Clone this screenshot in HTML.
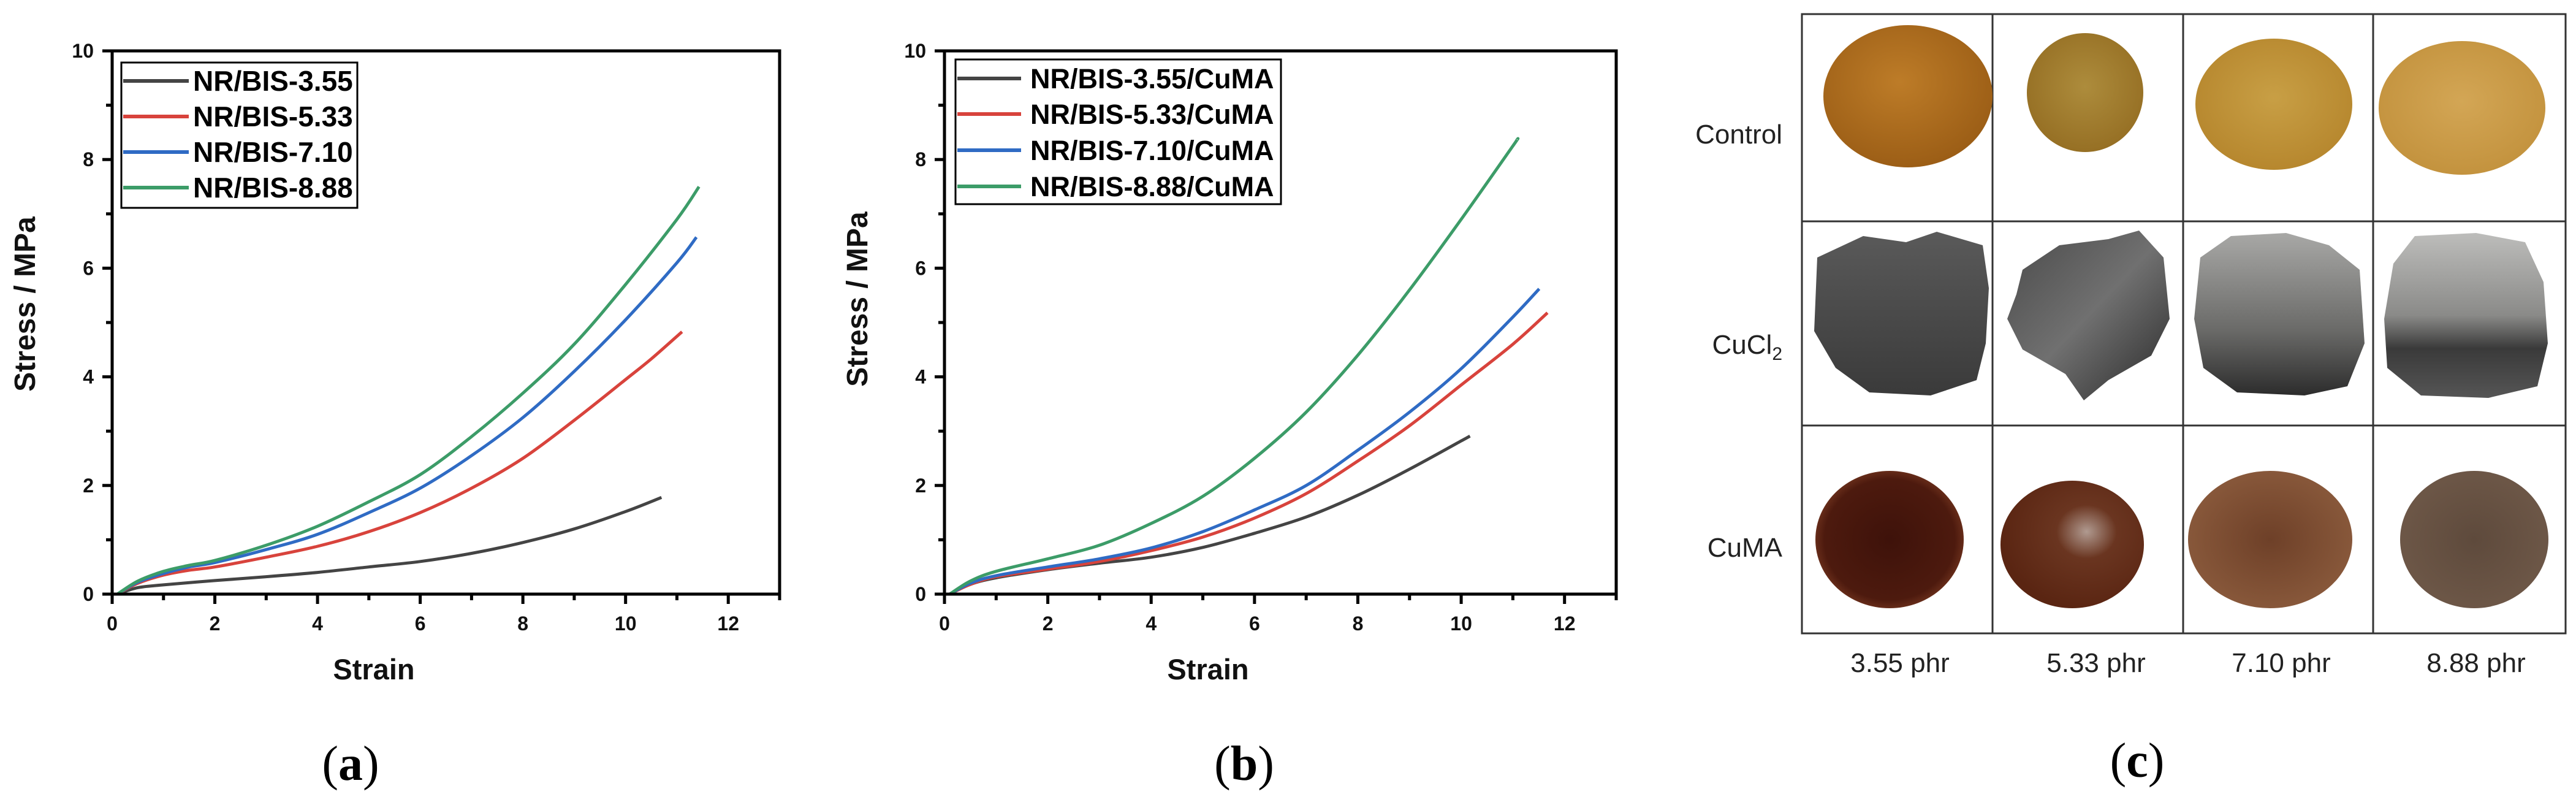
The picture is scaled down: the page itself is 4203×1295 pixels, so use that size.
<!DOCTYPE html>
<html><head><meta charset="utf-8"><style>
html,body{margin:0;padding:0;background:#fff;}
svg{display:block;}
</style></head><body>
<svg id="fig" width="4203" height="1295" viewBox="0 0 4203 1295" xmlns="http://www.w3.org/2000/svg" font-family="Liberation Sans, sans-serif">
<defs>
 <radialGradient id="gC1" cx="45%" cy="40%" r="60%"><stop offset="0" stop-color="#bd7c28"/><stop offset="1" stop-color="#9c5e16"/></radialGradient>
 <radialGradient id="gC2" cx="50%" cy="45%" r="60%"><stop offset="0" stop-color="#ad8c3c"/><stop offset="1" stop-color="#946d22"/></radialGradient>
 <radialGradient id="gC3" cx="50%" cy="45%" r="60%"><stop offset="0" stop-color="#c89f45"/><stop offset="1" stop-color="#b5852c"/></radialGradient>
 <radialGradient id="gC4" cx="50%" cy="45%" r="60%"><stop offset="0" stop-color="#d3a655"/><stop offset="1" stop-color="#c2913c"/></radialGradient>
 <linearGradient id="gX1" x1="0" y1="0" x2="0" y2="1"><stop offset="0" stop-color="#5a5a5a"/><stop offset="1" stop-color="#3a3a3a"/></linearGradient>
 <linearGradient id="gX2" x1="0" y1="0" x2="1" y2="1"><stop offset="0" stop-color="#4a4a4a"/><stop offset="0.5" stop-color="#707070"/><stop offset="1" stop-color="#2a2a2a"/></linearGradient>
 <linearGradient id="gX3" x1="0" y1="0" x2="0" y2="1"><stop offset="0" stop-color="#a8a8a6"/><stop offset="0.6" stop-color="#6a6a68"/><stop offset="1" stop-color="#2c2c2c"/></linearGradient>
 <linearGradient id="gX4" x1="0" y1="0" x2="0" y2="1"><stop offset="0" stop-color="#bdbdbb"/><stop offset="0.5" stop-color="#8a8a88"/><stop offset="0.7" stop-color="#3a3a3a"/><stop offset="1" stop-color="#555"/></linearGradient>
 <radialGradient id="gM1" cx="50%" cy="50%" r="55%"><stop offset="0" stop-color="#3e120a"/><stop offset="0.8" stop-color="#4d1a0e"/><stop offset="1" stop-color="#7a3a22"/></radialGradient>
 <radialGradient id="gM2" cx="60%" cy="40%" r="60%"><stop offset="0" stop-color="#b09a90"/><stop offset="0.35" stop-color="#6a3520"/><stop offset="1" stop-color="#5a2512"/></radialGradient>
 <radialGradient id="gM3" cx="50%" cy="50%" r="55%"><stop offset="0" stop-color="#6e4028"/><stop offset="1" stop-color="#8a5a3c"/></radialGradient>
 <radialGradient id="gM4" cx="50%" cy="50%" r="55%"><stop offset="0" stop-color="#5e4a3c"/><stop offset="1" stop-color="#6e5848"/></radialGradient>
</defs>
<g id="chartA"></g>
<g id="chartB"></g>
<g id="panelC">
 <g stroke="#333" stroke-width="3" fill="none">
  <rect x="2940" y="23" width="1246" height="1010"/>
  <line x1="3251" y1="23" x2="3251" y2="1033"/><line x1="3562" y1="23" x2="3562" y2="1033"/><line x1="3872" y1="23" x2="3872" y2="1033"/>
  <line x1="2940" y1="361" x2="4186" y2="361"/><line x1="2940" y1="694" x2="4186" y2="694"/>
 </g>
 <g>
  <ellipse cx="3113" cy="157" rx="138" ry="116" fill="url(#gC1)"/>
  <ellipse cx="3402" cy="151" rx="95" ry="97" fill="url(#gC2)"/>
  <ellipse cx="3710" cy="170" rx="128" ry="107" fill="url(#gC3)"/>
  <ellipse cx="4017" cy="176" rx="136" ry="109" fill="url(#gC4)"/>
 </g>
 <g>
  <path d="M2965 420 L3040 385 L3110 395 L3160 378 L3235 400 L3245 470 L3240 560 L3225 620 L3150 645 L3050 640 L2995 600 L2960 540 Z" fill="url(#gX1)"/>
  <path d="M3300 440 L3360 400 L3440 390 L3490 376 L3530 420 L3540 520 L3510 580 L3440 620 L3400 653 L3370 610 L3300 570 L3275 520 L3290 480 Z" fill="url(#gX2)"/>
  <path d="M3590 420 L3640 385 L3730 380 L3800 400 L3850 440 L3858 560 L3830 630 L3760 645 L3650 640 L3595 600 L3580 520 Z" fill="url(#gX3)"/>
  <path d="M3905 430 L3940 385 L4040 380 L4120 395 L4150 460 L4157 560 L4140 630 L4060 649 L3950 645 L3895 600 L3890 520 Z" fill="url(#gX4)"/>
 </g>
 <g>
  <ellipse cx="3083" cy="880" rx="121" ry="112" fill="url(#gM1)"/>
  <ellipse cx="3381" cy="888" rx="117" ry="104" fill="url(#gM2)"/>
  <ellipse cx="3704" cy="880" rx="134" ry="112" fill="url(#gM3)"/>
  <ellipse cx="4037" cy="880" rx="121" ry="112" fill="url(#gM4)"/>
 </g>
 <g font-size="44" fill="#222" text-anchor="end">
  <text x="2908" y="234">Control</text>
  <text x="2908" y="577">CuCl<tspan font-size="30" dy="10">2</tspan></text>
  <text x="2908" y="908">CuMA</text>
 </g>
 <g font-size="44" fill="#222" text-anchor="middle">
  <text x="3100" y="1096">3.55 phr</text>
  <text x="3420" y="1096">5.33 phr</text>
  <text x="3722" y="1096">7.10 phr</text>
  <text x="4040" y="1096">8.88 phr</text>
 </g>
</g>
<g font-family="Liberation Serif, serif" font-size="80" text-anchor="middle" fill="#000">
 <text x="572" y="1272">(<tspan font-weight="bold">a</tspan>)</text>
 <text x="2030" y="1272">(<tspan font-weight="bold">b</tspan>)</text>
 <text x="3487" y="1267">(<tspan font-weight="bold">c</tspan>)</text>
</g>
</svg>
<script>
const xTicks = [0, 2, 4, 6, 8, 10, 12];
const yTicks = [0, 2, 4, 6, 8, 10];
const seriesColors = ['#444444', '#d8433c', '#2f6bc4', '#3c9c68'];
const namesA = ['NR/BIS-3.55', 'NR/BIS-5.33', 'NR/BIS-7.10', 'NR/BIS-8.88'];
const namesB = ['NR/BIS-3.55/CuMA', 'NR/BIS-5.33/CuMA', 'NR/BIS-7.10/CuMA', 'NR/BIS-8.88/CuMA'];
// chart a strain / stress
const a1x = [0.1, 0.5, 1, 2, 3, 4, 5, 6, 7, 8, 9, 10, 10.7];
const a1y = [0, 0.12, 0.17, 0.25, 0.32, 0.4, 0.5, 0.6, 0.75, 0.95, 1.2, 1.52, 1.78];
const a2x = [0.1, 0.5, 1, 1.5, 2, 3, 4, 5, 6, 7, 8, 9, 10, 10.5, 11.1];
const a2y = [0, 0.2, 0.35, 0.44, 0.5, 0.68, 0.88, 1.15, 1.5, 1.95, 2.5, 3.2, 3.95, 4.33, 4.83];
const a3x = [0.1, 0.5, 1, 1.5, 2, 3, 4, 5, 6, 7, 8, 9, 10, 11, 11.38];
const a3y = [0, 0.22, 0.38, 0.5, 0.58, 0.82, 1.1, 1.5, 1.95, 2.55, 3.25, 4.1, 5.05, 6.1, 6.57];
const a4x = [0.1, 0.5, 1, 1.5, 2, 3, 4, 5, 6, 7, 8, 9, 10, 11, 11.43];
const a4y = [0, 0.24, 0.42, 0.53, 0.62, 0.9, 1.25, 1.7, 2.2, 2.9, 3.7, 4.6, 5.7, 6.9, 7.5];
// chart b
const b1x = [0.1, 0.5, 1, 2, 3, 4, 5, 6, 7, 8, 9, 10, 10.17];
const b1y = [0, 0.18, 0.3, 0.45, 0.57, 0.68, 0.86, 1.12, 1.42, 1.82, 2.3, 2.82, 2.91];
const b2x = [0.1, 0.5, 1, 2, 3, 4, 5, 6, 7, 8, 9, 10, 11, 11.67];
const b2y = [0, 0.18, 0.32, 0.46, 0.6, 0.8, 1.05, 1.4, 1.85, 2.45, 3.1, 3.85, 4.6, 5.18];
const b3x = [0.1, 0.5, 1, 2, 3, 4, 5, 6, 7, 8, 9, 10, 11, 11.51];
const b3y = [0, 0.2, 0.34, 0.5, 0.65, 0.85, 1.15, 1.55, 2.0, 2.65, 3.35, 4.15, 5.1, 5.62];
const b4x = [0.1, 0.5, 1, 2, 3, 4, 5, 6, 7, 8, 9, 10, 11, 11.07];
const b4y = [0, 0.24, 0.42, 0.65, 0.9, 1.3, 1.8, 2.5, 3.35, 4.4, 5.6, 6.9, 8.25, 8.35];

const NS = 'http://www.w3.org/2000/svg';
function mk(tag, attrs, parent) {
  const e = document.createElementNS(NS, tag);
  for (const k in attrs) e.setAttribute(k, attrs[k]);
  parent.appendChild(e);
  return e;
}
function pathFrom(xs, ys, sx, sy) {
  const p = xs.map((x, i) => [sx(x), sy(ys[i])]);
  let d = 'M' + p[0][0].toFixed(1) + ' ' + p[0][1].toFixed(1);
  for (let i = 0; i < p.length - 1; i++) {
    const p0 = p[i - 1] || p[i], p1 = p[i], p2 = p[i + 1], p3 = p[i + 2] || p2;
    const c1x = p1[0] + (p2[0] - p0[0]) / 6, c1y = p1[1] + (p2[1] - p0[1]) / 6;
    const c2x = p2[0] - (p3[0] - p1[0]) / 6, c2y = p2[1] - (p3[1] - p1[1]) / 6;
    d += ' C' + c1x.toFixed(1) + ' ' + c1y.toFixed(1) + ' ' + c2x.toFixed(1) + ' ' + c2y.toFixed(1) + ' ' + p2[0].toFixed(1) + ' ' + p2[1].toFixed(1);
  }
  return d;
}
function drawChart(g, cfg) {
  const L = cfg.left, R = cfg.right, T = 83, B = 969;
  const sx = v => L + (v / 13) * (R - L);
  const sy = v => B - (v / 10) * (B - T);
  cfg.series.forEach((s, i) => {
    const p = mk('path', {d: pathFrom(s[0], s[1], sx, sy), fill: 'none', stroke: seriesColors[i], 'stroke-width': 5, 'stroke-linejoin': 'round'}, g);
    
    
  });
  const fr = mk('rect', {x: L, y: T, width: R - L, height: B - T, fill: 'none', stroke: '#000', 'stroke-width': 5}, g);
  
  
  for (let v = 0; v <= 13; v++) {
    const major = v % 2 === 0;
    const t = mk('line', {x1: sx(v), x2: sx(v), y1: B, y2: B + (major ? 16 : 10), stroke: '#000', 'stroke-width': 5}, g);
    
    
  }
  xTicks.forEach(v => {
    const t = mk('text', {x: sx(v), y: B + 59, 'font-size': 32, 'text-anchor': 'middle', 'font-weight': 'bold', fill: '#111'}, g);
    t.textContent = String(v);
    
    
  });
  for (let v = 0; v <= 10; v++) {
    const major = v % 2 === 0;
    const t = mk('line', {x1: L - (major ? 16 : 10), x2: L, y1: sy(v), y2: sy(v), stroke: '#000', 'stroke-width': 5}, g);
    
    
  }
  yTicks.forEach(v => {
    const t = mk('text', {x: L - 30, y: sy(v) + 11, 'font-size': 32, 'text-anchor': 'end', 'font-weight': 'bold', fill: '#111'}, g);
    t.textContent = String(v);
    
    
  });
  const xt = mk('text', {x: cfg.xTitleX, y: 1108, 'font-size': 47, 'font-weight': 'bold', 'text-anchor': 'middle', fill: '#111'}, g);
  xt.textContent = 'Strain';
  
  
  const yt = mk('text', {x: 0, y: 0, 'font-size': 48, 'font-weight': 'bold', 'text-anchor': 'middle', fill: '#111', transform: 'translate(' + (cfg.yTitleX + 17) + ',' + cfg.yTitleY + ') rotate(-90)'}, g);
  yt.textContent = 'Stress / MPa';
  
  
  const lg = mk('g', {}, g);
  
  
  mk('rect', {x: cfg.leg[0], y: cfg.leg[1], width: cfg.leg[2], height: cfg.leg[3], fill: '#fff', stroke: '#000', 'stroke-width': 3}, lg);
  cfg.names.forEach((n, i) => {
    const yy = cfg.legY[i];
    const e = mk('g', {}, lg);
    
    
    mk('line', {x1: cfg.leg[0] + 3, x2: cfg.legLineEnd, y1: yy, y2: yy, stroke: seriesColors[i], 'stroke-width': 6}, e);
    const t = mk('text', {x: cfg.legText, y: yy + 16, 'font-size': cfg.legFont, 'font-weight': 'bold', fill: '#000'}, e);
    t.textContent = n;
  });
}
drawChart(document.getElementById('chartA'), {
  left: 183, right: 1272, names: namesA,
  series: [[a1x, a1y], [a2x, a2y], [a3x, a3y], [a4x, a4y]],
  xTitleX: 610, yTitleX: 40, yTitleY: 496,
  leg: [198, 102, 385, 237], legY: [132, 190, 248, 306], legLineEnd: 308, legText: 315, legFont: 46
});
drawChart(document.getElementById('chartB'), {
  left: 1541, right: 2637, names: namesB,
  series: [[b1x, b1y], [b2x, b2y], [b3x, b3y], [b4x, b4y]],
  xTitleX: 1971, yTitleX: 1398, yTitleY: 488,
  leg: [1559, 97, 531, 236], legY: [128, 186, 245, 304], legLineEnd: 1666, legText: 1681, legFont: 45
});
</script>
</body></html>
